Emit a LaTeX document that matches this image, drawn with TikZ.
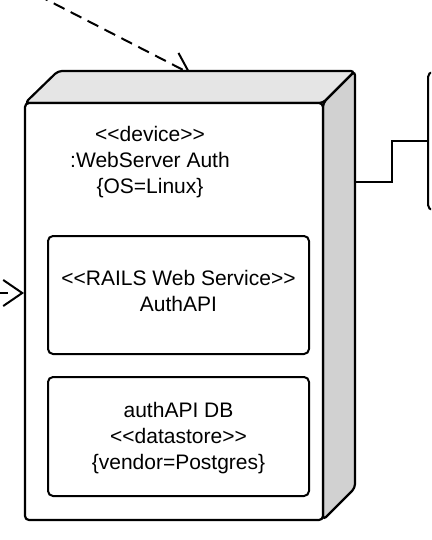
\documentclass[tikz,border=0pt]{standalone}
\usepackage{fontspec}
\setmainfont{Liberation Sans}[Ligatures=TeXOff]
\usetikzlibrary{arrows.meta}
\begin{document}
\begin{tikzpicture}[x=1pt,y=-1pt,
  outline/.style={draw=black,line width=2.2pt,rounded corners=4pt,line join=round},
  topface/.style={outline,fill=gray!20},
  sideface/.style={outline,fill=gray!36},
  frontface/.style={outline,fill=white},
  inner/.style={draw=black,line width=2pt,rounded corners=5pt,fill=white,inner sep=0pt},
  lbl/.style={align=center,font=\fontsize{21}{26}\selectfont,inner sep=0pt},
  conn/.style={draw=black,line width=2pt},
  barb/.style={-{Straight Barb[length=19pt,width=26pt,line width=2pt]}}
]
\useasboundingbox (0,0) rectangle (431,540);
\clip (0,0) rectangle (431,540);
% incoming dependencies (drawn behind the device)
\coordinate (dstart) at (20,-14);
\coordinate (dtip) at (191,74);
\draw[conn,barb,dash pattern=on 12pt off 7pt] (dstart) -- (dtip);
\coordinate (lstart) at (-4,293);
\coordinate (ltip) at (24,293);
\draw[conn,barb,dash pattern=on 12pt off 30pt] (lstart) -- (ltip);
% device node (3D box)
\path[topface] (25,103) -- (58,71) -- (355,71) -- (323,103) -- cycle;
\path[sideface] (323,103) -- (355,71) -- (355,488) -- (323,520) -- cycle;
\path[frontface] (25,103) rectangle (323,520);
\coordinate (rp) at (355,182);
\node[lbl] (dev) at (150,162) {<<device>>\\:WebServer Auth\\\{OS=Linux\}};
% nested artifacts
\node[inner,minimum width=261pt,minimum height=118pt] (api) at (178.5,295) {};
\node[lbl] (apit) at (178.5,291) {<<RAILS Web Service>>\\AuthAPI};
\node[inner,minimum width=261pt,minimum height=119pt] (db) at (178.5,436.5) {};
\node[lbl] (dbt) at (178.5,438) {authAPI DB\\<<datastore>>\\\{vendor=Postgres\}};
% external node at the right
\node[inner,minimum width=44pt,minimum height=138pt] (ext) at (450,141) {};
\draw[conn] (rp) -- ++(37,0) |- (ext.west);
\end{tikzpicture}
\end{document}
